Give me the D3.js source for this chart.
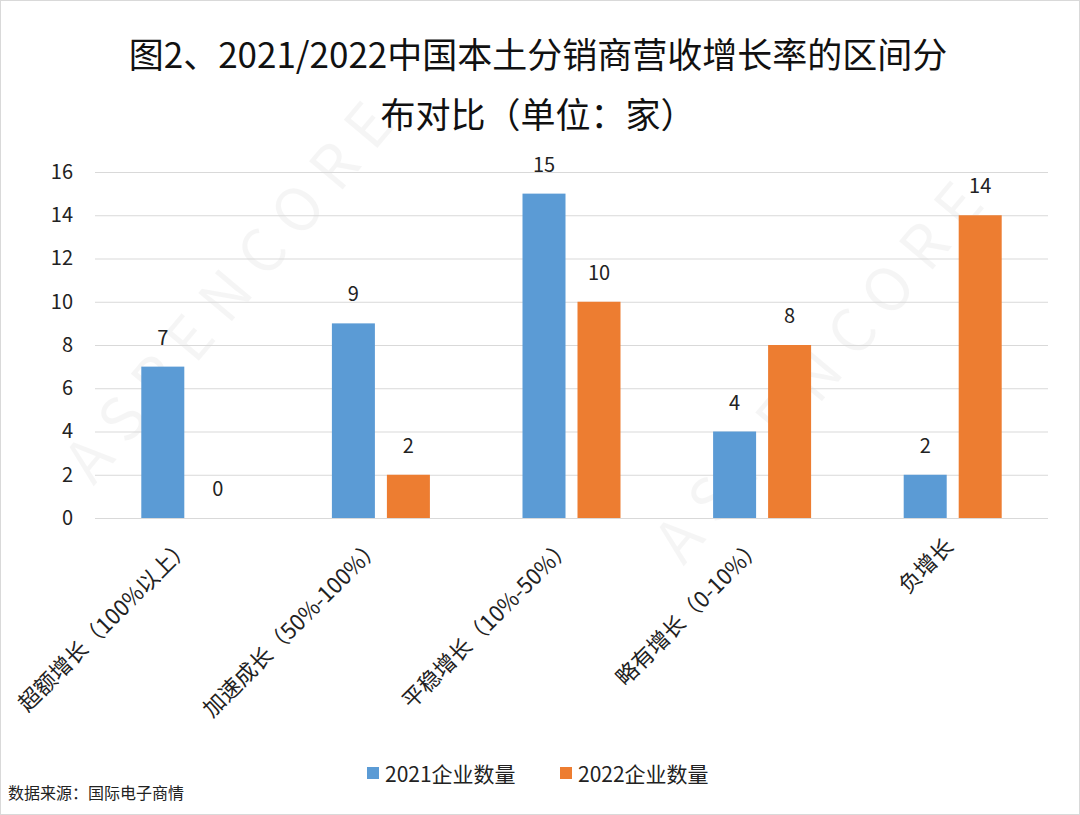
<!DOCTYPE html>
<meta charset="utf-8">
<style>
body { margin: 0; background: #fff; }
text { font-family: "Noto Sans CJK SC", "Noto Sans", sans-serif; }
</style>
<svg width="1080" height="815"></svg>
<script src="https://cdn.jsdelivr.net/npm/d3@7"></script>
<script>
var categories = ["超额增长（100%以上）", "加速成长（50%-100%）", "平稳增长（10%-50%）", "略有增长（0-10%）", "负增长"];
var series2021 = [7, 9, 15, 4, 2];
var series2022 = [0, 2, 10, 8, 14];
var seriesNames = ["2021企业数量", "2022企业数量"];
var colors = ["#5b9bd5", "#ed7d31"];

var svg = d3.select("svg"),
    margin = {top: 172, right: 32, bottom: 298, left: 95},
    width = 1080, height = 815;

svg.append("rect").attr("x", 0.5).attr("y", 0.5).attr("width", width - 1).attr("height", height - 1)
    .attr("fill", "#fff").attr("stroke", "#d9d9d9");

// watermark
[[250, 300], [840, 380]].forEach(function(p) {
  svg.append("text").attr("transform", "translate(" + p[0] + "," + p[1] + ") rotate(-50)")
    .attr("text-anchor", "middle").attr("font-size", 60).attr("letter-spacing", 16)
    .attr("fill", "#000").attr("fill-opacity", 0.04).text("ASPENCORE");
});

var x = d3.scaleBand().domain(categories).range([margin.left, width - margin.right]);
var y = d3.scaleLinear().domain([0, 16]).range([height - margin.bottom + 1, margin.top]);

svg.append("g").attr("transform", "translate(" + margin.left + ",0)")
  .call(d3.axisLeft(y).ticks(8).tickSize(-(width - margin.left - margin.right)).tickPadding(22))
  .call(function(g) {
    g.select(".domain").remove();
    g.selectAll(".tick line").attr("stroke", "#d9d9d9");
    g.selectAll(".tick text").attr("font-size", 20).attr("fill", "#222").attr("font-family", "'Open Sans', sans-serif");
  });

var barW = 43, gap = 12;
var data = [series2021, series2022];
data.forEach(function(s, i) {
  var g = svg.append("g");
  var bx = function(c) { return x(c) + x.bandwidth() / 2 + (i === 0 ? -gap / 2 - barW : gap / 2); };
  g.selectAll("rect").data(categories).enter().append("rect")
    .attr("x", function(c) { return bx(c); })
    .attr("y", function(c, k) { return y(s[k]); })
    .attr("width", barW)
    .attr("height", function(c, k) { return y(0) - y(s[k]); })
    .attr("fill", colors[i]);
  g.selectAll("text").data(categories).enter().append("text")
    .attr("x", function(c) { return bx(c) + barW / 2; })
    .attr("y", function(c, k) { return y(s[k]) - 22; })
    .attr("text-anchor", "middle").attr("font-size", 20).attr("fill", "#222")
    .attr("font-family", "'Open Sans', sans-serif")
    .text(function(c, k) { return s[k]; });
});

// x labels
svg.append("g").selectAll("text").data(categories).enter().append("text")
  .attr("transform", function(c) { return "translate(" + (x(c) + x.bandwidth() / 2 + 2) + "," + (y(0) + 30) + ") rotate(-45)"; })
  .attr("text-anchor", "end").attr("font-size", 22).attr("fill", "#222")
  .text(function(c) { return c; });

// title
svg.append("text").attr("x", 538).attr("y", 68).attr("text-anchor", "middle")
  .attr("font-size", 35).attr("fill", "#111").text("图2、2021/2022中国本土分销商营收增长率的区间分");
svg.append("text").attr("x", 538).attr("y", 128).attr("text-anchor", "middle")
  .attr("font-size", 35).attr("fill", "#111").text("布对比（单位：家）");

// legend
var lx = [367, 560];
seriesNames.forEach(function(n, i) {
  svg.append("rect").attr("x", lx[i]).attr("y", 767).attr("width", 12).attr("height", 12).attr("fill", colors[i]);
  svg.append("text").attr("x", lx[i] + 18).attr("y", 782).attr("font-size", 21).attr("fill", "#222").text(n);
});

svg.append("text").attr("x", 8).attr("y", 799).attr("font-size", 16).attr("fill", "#222").text("数据来源：国际电子商情");
</script>
